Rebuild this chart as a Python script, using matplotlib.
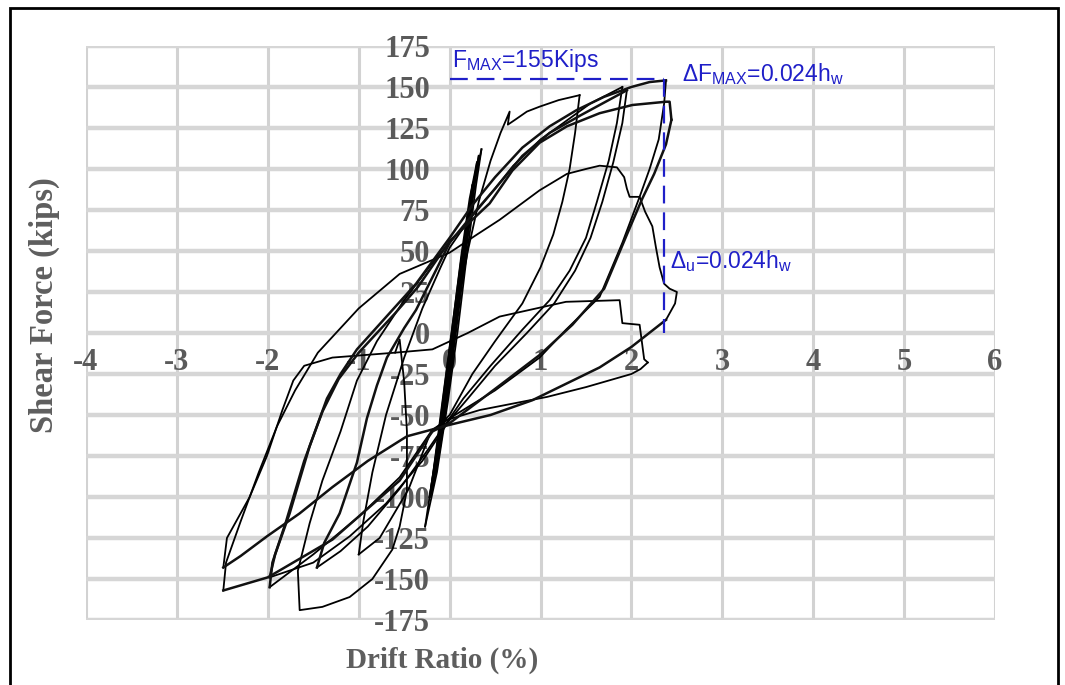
import matplotlib
matplotlib.use("Agg")
import matplotlib.pyplot as plt
from matplotlib.patches import Rectangle

plt.rcParams['font.family'] = ['Liberation Serif', 'DejaVu Serif']
plt.rcParams['axes.unicode_minus'] = False
plt.rcParams['mathtext.fontset'] = 'custom'
plt.rcParams['mathtext.rm'] = 'Liberation Sans'

# axis ticks
x_ticks = [-4, -3, -2, -1, 0, 1, 2, 3, 4, 5, 6]
y_ticks = [-175, -150, -125, -100, -75, -50, -25, 0, 25, 50, 75, 100, 125, 150, 175]

# hysteresis branches: (drift %, shear kips)
c0_up = [(-0.15, -85), (-0.08, -55), (0.00, -20), (0.08, 15), (0.16, 52), (0.25, 90)]
c0_dn = [(0.25, 90), (0.19, 62), (0.10, 20), (0.01, -22), (-0.08, -58), (-0.15, -85)]
c1_up = [(-0.20, -98), (-0.12, -68), (-0.03, -30), (0.06, 10), (0.15, 50), (0.24, 85), (0.32, 108)]
c1_dn = [(0.32, 108), (0.27, 88), (0.18, 50), (0.08, 5), (-0.02, -38), (-0.11, -72), (-0.20, -98)]
c2_up = [(-0.22, -100), (-0.15, -75), (-0.06, -35), (0.04, 8), (0.13, 48), (0.22, 82), (0.30, 104)]
c2_dn = [(0.30, 104), (0.24, 80), (0.15, 40), (0.05, -3), (-0.05, -45), (-0.14, -78), (-0.22, -100)]
c2b_up = [(-0.27, -118), (-0.18, -85), (-0.08, -42), (0.02, 0), (0.12, 42), (0.23, 80), (0.35, 112)]
c2b_dn = [(0.35, 112), (0.29, 90), (0.19, 48), (0.09, 2), (-0.02, -42), (-0.14, -85), (-0.27, -118)]
c3_up = [(-0.22, -100), (-0.14, -70), (-0.04, -30), (0.08, 15), (0.20, 50), (0.32, 80), (0.45, 105),
         (0.56, 122), (0.66, 135), (0.64, 127), (0.72, 130), (0.85, 135), (0.99, 138), (1.20, 142), (1.43, 145)]
c3_dn = [(1.43, 145), (1.38, 122), (1.32, 100), (1.24, 80), (1.14, 60), (1.00, 40), (0.80, 18), (0.50, -5),
         (0.25, -25), (0.00, -50), (-0.22, -62), (-0.45, -95), (-0.77, -125), (-1.00, -135)]
c4_up = [(-1.00, -135), (-0.95, -115), (-0.85, -85), (-0.70, -50), (-0.50, -15), (-0.30, 15), (-0.10, 40),
         (0.00, 52), (0.20, 68), (0.44, 84), (0.70, 102), (1.00, 118), (1.30, 130), (1.55, 140), (1.90, 150)]
c4_dn = [(1.90, 150), (1.84, 128), (1.75, 105), (1.62, 80), (1.50, 58), (1.32, 38), (1.10, 20), (0.80, 2),
         (0.45, -20), (0.15, -40), (0.00, -52), (-0.25, -72), (-0.55, -95), (-0.90, -118), (-1.20, -133), (-1.46, -143)]
c5_up = [(-1.46, -143), (-1.38, -128), (-1.21, -110), (-1.02, -79), (-0.91, -52), (-0.80, -32), (-0.69, -15),
         (-0.50, 3), (-0.37, 14), (-0.18, 35), (0.00, 55), (0.25, 72), (0.50, 88), (0.80, 108), (1.10, 122),
         (1.45, 133), (1.75, 142), (1.95, 148)]
c5_dn = [(1.95, 148), (1.90, 128), (1.80, 104), (1.68, 80), (1.55, 58), (1.38, 38), (1.15, 18), (0.85, 0),
         (0.50, -20), (0.20, -40), (0.00, -53), (-0.30, -78), (-0.70, -104), (-1.10, -124), (-1.50, -140), (-1.98, -149)]
c6_up = [(-1.98, -149), (-1.92, -135), (-1.76, -110), (-1.54, -69), (-1.35, -40), (-1.20, -25), (-1.02, -10),
         (-0.63, 14), (-0.37, 30), (0.00, 58), (0.25, 78), (0.50, 95), (0.80, 113), (1.10, 126), (1.40, 136),
         (1.70, 144), (2.00, 150), (2.20, 153), (2.38, 154)]
c6_dn = [(2.38, 154), (2.36, 140), (2.30, 118), (2.20, 100), (2.09, 83), (1.90, 55), (1.65, 22), (1.28, 2),
         (0.99, -15), (0.50, -35), (0.00, -52), (-0.19, -59), (-0.55, -88), (-1.00, -112), (-1.50, -135), (-1.98, -155)]
c7_up = [(-1.98, -155), (-1.95, -140), (-1.80, -115), (-1.60, -78), (-1.40, -48), (-1.22, -28), (-1.00, -12),
         (-0.60, 12), (-0.35, 28), (0.00, 56), (0.44, 79), (0.69, 99), (0.99, 116), (1.29, 126), (1.65, 134),
         (2.01, 139), (2.38, 141), (2.42, 141), (2.44, 130)]
c7_dn = [(2.44, 130), (2.38, 115), (2.25, 97), (2.12, 82), (1.95, 60), (1.70, 27), (1.35, 5), (1.00, -13),
         (0.55, -32), (0.00, -55), (-0.19, -60), (-0.55, -90), (-1.29, -126), (-2.00, -149), (-2.49, -157)]
c8_up = [(-2.49, -157), (-2.46, -140), (-2.30, -115), (-2.10, -85), (-1.90, -57), (-1.70, -35), (-1.45, -12),
         (-1.00, 15), (-0.55, 36), (0.00, 49), (0.30, 60), (0.55, 69), (0.99, 87), (1.29, 97), (1.50, 100),
         (1.65, 102), (1.84, 101), (1.92, 95), (1.95, 88), (1.98, 83), (2.09, 83), (2.15, 74), (2.23, 65),
         (2.27, 52), (2.31, 40), (2.36, 30), (2.42, 27), (2.50, 25), (2.48, 18), (2.38, 8)]
c8_dn = [(2.38, 8), (2.00, -8.5), (1.65, -21), (0.91, -41), (0.45, -50), (0.00, -56), (-0.47, -63),
         (-0.90, -78), (-1.29, -94), (-1.65, -110), (-2.01, -124), (-2.30, -136), (-2.49, -143)]
c9_up = [(-2.49, -143), (-2.45, -125), (-2.20, -100), (-2.01, -75), (-1.84, -47), (-1.72, -29), (-1.60, -20),
         (-1.29, -15), (-0.60, -12), (-0.19, -10), (0.20, 0), (0.55, 10), (1.28, 19), (1.87, 20), (1.90, 6),
         (2.09, 5), (2.14, -16), (2.18, -18)]
c9_dn = [(2.18, -18), (2.10, -22), (2.00, -25), (1.50, -33), (1.07, -39), (0.33, -47), (-0.03, -53)]
c10 = [(-0.60, -12), (-0.55, -4), (-0.50, -30), (-0.47, -60), (-0.47, -96), (-0.55, -118), (-0.63, -132),
       (-0.85, -150), (-1.10, -161), (-1.40, -167), (-1.65, -169), (-1.67, -145), (-1.54, -116), (-1.40, -90),
       (-1.20, -60), (-1.02, -29), (-0.80, -5), (-0.50, 20), (-0.20, 42), (0.00, 55)]

thin = [c0_up, c0_dn, c1_up, c1_dn, c2_up, c2_dn, c2b_up, c2b_dn, c3_up, c3_dn, c4_up, c4_dn,
        c5_dn, c6_dn, c8_up, c9_up, c9_dn, c10]
# branches drawn with the rough, serrated trace in the scan
rough = [c5_up, c6_up, c7_up, c7_dn, c8_dn]

f_max = 155
drift_max = 2.36

fig = plt.figure(figsize=(10.65, 6.85), dpi=100)
ax = fig.add_axes([0.0808, 0.0949, 0.8535, 0.838])

for br in thin:
    ax.plot([p[0] for p in br], [p[1] for p in br], color='black', lw=1.3, zorder=3)
for br in rough:
    ax.plot([p[0] for p in br], [p[1] for p in br], color='#111111', lw=1.8, zorder=3)

# blue markers for peak values
blue = '#1f1fc8'
ax.plot([0, drift_max], [f_max, f_max], color=blue, lw=1.6, dashes=(8, 4), zorder=4)
ax.plot([drift_max, drift_max], [f_max, 0], color=blue, lw=1.6, dashes=(8, 4), zorder=4)
ax.text(0.03, 158, r'F$_{\mathrm{MAX}}$=155Kips', color=blue, fontsize=16.5,
        family='Liberation Sans', va='bottom', ha='left')
ax.text(2.56, 158, r'$\Delta$F$_{\mathrm{MAX}}$=0.024h$_{\mathrm{w}}$', color=blue, fontsize=16.5,
        family='Liberation Sans', va='center', ha='left')
ax.text(2.42, 44, r'$\Delta_{\mathrm{u}}$=0.024h$_{\mathrm{w}}$', color=blue, fontsize=16.5,
        family='Liberation Sans', va='center', ha='left')

ax.set_xlim(-4, 6)
ax.set_ylim(-175, 175)
ax.set_xticks(x_ticks)
ax.set_yticks(y_ticks)
ax.xaxis.grid(True, color='#d2d2d2', lw=2.2, zorder=0)
ax.yaxis.grid(True, color='#d6d6d6', lw=3.2, zorder=0)
ax.set_axisbelow(True)
for s in ax.spines.values():
    s.set_visible(False)
ax.spines['left'].set_position(('data', 0))
ax.spines['bottom'].set_position(('data', 0))
ax.tick_params(axis='both', length=0, labelsize=22, labelcolor='#5a5a5a')
ax.tick_params(axis='y', pad=14)
ax.tick_params(axis='x', pad=11)
for lab in ax.get_xticklabels() + ax.get_yticklabels():
    lab.set_fontweight('bold')

fig.text(0.042, 0.555, 'Shear Force (kips)', rotation=90, ha='center', va='center',
         fontsize=23.5, fontweight='bold', color='#5e5e5e')
fig.text(0.415, 0.036, 'Drift Ratio (%)', ha='center', va='center',
         fontsize=21, fontweight='bold', color='#5e5e5e')

fig.patches.append(Rectangle((0.0094, -0.01), 0.984, 0.998, transform=fig.transFigure,
                             fill=False, edgecolor='black', lw=2))

fig.savefig('out.png', dpi=100)
